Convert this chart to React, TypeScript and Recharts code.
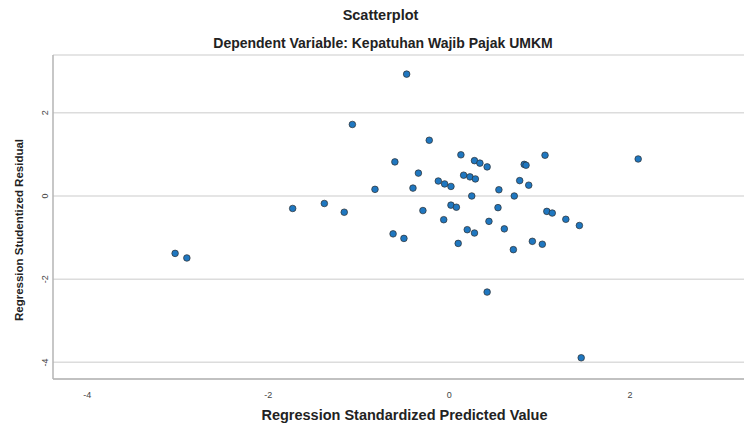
import { ScatterChart, Scatter, XAxis, YAxis, CartesianGrid } from "recharts"

// Regression Standardized Predicted Value
const predicted = [
  -0.47, -1.07, -0.22, 0.13, 0.28, 0.34, 0.42, -0.6, -0.34, 0.83, 0.85, 1.06, 0.16,
  0.23, 0.29, -0.12, -0.05, 0.02, 0.78, 0.88, -0.82, -0.4, 0.55, 0.25, 0.72, -1.38,
  -1.16, -0.29, 0.02, 0.08, 0.54, 1.08, 1.14, 1.29, 1.44, 2.09, 1.46, -0.06, 0.44,
  0.61, 0.2, 0.28, -0.62, -0.5, 0.1, 0.92, 1.03, 0.71, 0.42, -3.03, -2.9, -1.73,
]
// Regression Studentized Residual
const residual = [
  2.93, 1.72, 1.34, 0.99, 0.85, 0.79, 0.7, 0.82, 0.55, 0.76, 0.74, 0.98, 0.5,
  0.46, 0.41, 0.36, 0.29, 0.23, 0.37, 0.26, 0.16, 0.19, 0.15, 0.0, 0.0, -0.18,
  -0.39, -0.35, -0.22, -0.27, -0.28, -0.37, -0.41, -0.56, -0.71, 0.89, -3.89, -0.57, -0.61,
  -0.79, -0.81, -0.89, -0.91, -1.02, -1.14, -1.09, -1.16, -1.29, -2.31, -1.38, -1.49, -0.3,
]
const xTicks = [-4, -2, 0, 2]
const yTicks = [-4, -2, 0, 2]

const points = predicted.map((x, i) => ({ x, y: residual[i] }))

const font = "'Liberation Sans', Arial, sans-serif"

function XTick(props: any) {
  const { x, y, payload } = props
  return (
    <text x={x} y={y} dy={11} textAnchor="middle" fontSize={9} fill="#444" fontFamily={font}>
      {payload.value}
    </text>
  )
}

function YTick(props: any) {
  const { x, y, payload } = props
  const tx = x + 3
  return (
    <text x={tx} y={y} transform={`rotate(-90 ${tx} ${y})`} textAnchor="middle" fontSize={9} fill="#444" fontFamily={font}>
      {payload.value}
    </text>
  )
}

function Dot(props: any) {
  return <circle cx={props.cx} cy={props.cy} r={3.3} fill="#1f77c0" stroke="#2e2e2e" strokeWidth={0.7} />
}

export default function App() {
  return (
    <div style={{ position: "relative", width: 744, height: 425, background: "#fff", fontFamily: font }}>
      <style>{"body{margin:0}"}</style>
      <div style={{ position: "absolute", top: 7, left: 0, width: 761, textAlign: "center", fontSize: 14.5, fontWeight: "bold", color: "#222", lineHeight: "17px" }}>
        Scatterplot
      </div>
      <div style={{ position: "absolute", top: 35, left: 0, width: 766, textAlign: "center", fontSize: 14, fontWeight: "bold", color: "#222", lineHeight: "17px" }}>
        Dependent Variable: Kepatuhan Wajib Pajak UMKM
      </div>
      <div style={{ position: "absolute", top: 407, left: 0, width: 809, textAlign: "center", fontSize: 14.5, fontWeight: "bold", color: "#222", lineHeight: "17px" }}>
        Regression Standardized Predicted Value
      </div>
      <div style={{ position: "absolute", left: 19, top: 230, transform: "translate(-50%, -50%) rotate(-90deg)", whiteSpace: "nowrap", fontSize: 11.5, fontWeight: "bold", color: "#222" }}>
        Regression Studentized Residual
      </div>
      <ScatterChart width={744} height={425} margin={{ top: 55, right: 0, bottom: 16, left: 13 }}>
        <CartesianGrid horizontal vertical={false} stroke="#dcdcdc" strokeWidth={1.5} />
        <XAxis
          type="number"
          dataKey="x"
          domain={[-4.38, 3.26]}
          ticks={xTicks}
          height={30}
          tickLine={false}
          stroke="#b4b4b4"
          strokeWidth={1.5}
          tick={<XTick />}
          allowDataOverflow
        />
        <YAxis
          type="number"
          dataKey="y"
          domain={[-4.4, 3.39]}
          ticks={yTicks}
          width={40}
          tickLine={false}
          stroke="#b4b4b4"
          strokeWidth={1.5}
          tick={<YTick />}
          allowDataOverflow
        />
        <Scatter data={points} shape={<Dot />} isAnimationActive={false} />
      </ScatterChart>
    </div>
  )
}
